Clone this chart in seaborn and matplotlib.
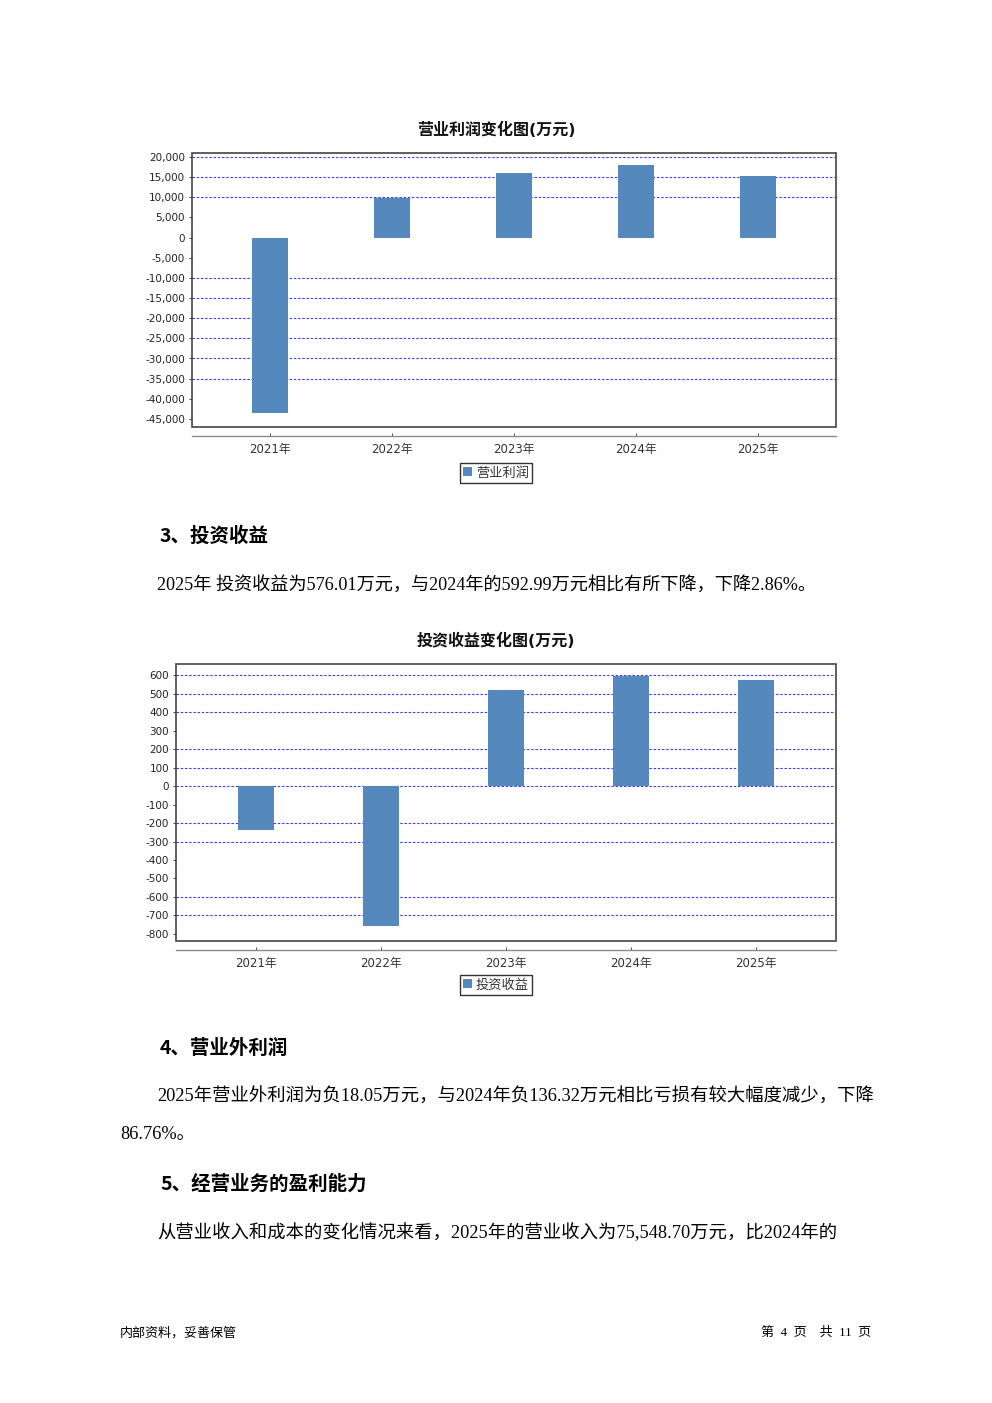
import pandas as pd
import seaborn as sns
import matplotlib.pyplot as plt
from matplotlib.patches import Rectangle
from matplotlib.ticker import FuncFormatter

# data read from the page
years = ['2021年', '2022年', '2023年', '2024年', '2025年']
op_profit = [-43500, 9800, 16000, 18000, 15200]
inv_income = [-238, -757, 520, 592.99, 576.01]
op_ticks = list(range(-45000, 20001, 5000))
inv_ticks = list(range(-800, 601, 100))
# dashed grid lines that show up in the scan
op_grid = [20000, 15000, 10000, -10000, -15000, -20000, -25000, -30000, -35000]
inv_grid = [600, 500, 400, 200, 100, 0, -200, -300, -600, -700]

BAR = '#5588bd'
GRID = '#3c3cf0'
W, H = 992, 1403

sns.set_theme(style='white')
plt.rcParams['font.family'] = ['DejaVu Sans', 'Noto Sans CJK SC']

fig = plt.figure(figsize=(W / 100, H / 100), dpi=100)


def px_axes(x0, y0, x1, y1):
    return fig.add_axes([x0 / W, 1 - y1 / H, (x1 - x0) / W, (y1 - y0) / H])


def draw_chart(ax, values, ticks, grid, ylim, label):
    df = pd.DataFrame({'year': years, 'value': values})
    sns.barplot(data=df, x='year', y='value', color=BAR, saturation=1,
                width=0.29, linewidth=0, ax=ax, label=label, legend=False, zorder=3)
    ax.set_xlim(-0.64, 4.64)
    ax.set_ylim(*ylim)
    ax.set_yticks(ticks)
    ax.yaxis.set_major_formatter(FuncFormatter(lambda v, p: f'{v:,.0f}'))
    for g in grid:
        ax.axhline(g, color=GRID, ls=(0, (2.2, 1.6)), lw=0.8, zorder=1)
    ax.set_xlabel('')
    ax.set_ylabel('')
    for s in ['top', 'right', 'left']:
        ax.spines[s].set_visible(False)
    ax.spines['bottom'].set_position(('outward', 6.5))
    ax.spines['bottom'].set_color('#8a8a8a')
    ax.spines['bottom'].set_linewidth(1.0)
    ax.add_patch(Rectangle((0, 0), 1, 1, transform=ax.transAxes, fill=False,
                           ec='#444444', lw=1.2, clip_on=False, zorder=5))
    ax.tick_params(axis='y', labelsize=7.5, colors='#222222', length=2,
                   width=0.6, pad=3, left=True)
    ax.tick_params(axis='x', labelsize=8.5, colors='#333333', length=2,
                   width=0.6, pad=5, bottom=True, direction='in')


def draw_legend(ax, cy):
    h, l = ax.get_legend_handles_labels()
    leg = fig.legend(h[:1], l[:1], loc='center', bbox_to_anchor=(496 / W, 1 - cy / H),
                     fontsize=9.5, frameon=True, fancybox=False, borderpad=0.25,
                     handlelength=0.65, handleheight=0.65, handletextpad=0.3,
                     borderaxespad=0)
    leg.get_frame().set_edgecolor('black')
    leg.get_frame().set_linewidth(1.0)
    for t in leg.get_texts():
        t.set_color('#333333')


# chart 1: 营业利润
ax1 = px_axes(192, 153, 836, 427)
draw_chart(ax1, op_profit, op_ticks, op_grid, (-47000, 21000), '营业利润')
draw_legend(ax1, 473)
fig.text(496 / W, 1 - 130 / H, '营业利润变化图(万元)', ha='center', va='center',
         fontsize=11.5, fontweight='bold', color='#111111')

# chart 2: 投资收益
ax2 = px_axes(176, 664, 836, 941)
draw_chart(ax2, inv_income, inv_ticks, inv_grid, (-838, 660), '投资收益')
draw_legend(ax2, 985)
fig.text(496 / W, 1 - 641 / H, '投资收益变化图(万元)', ha='center', va='center',
         fontsize=11.5, fontweight='bold', color='#111111')

# document text
serif = ['Liberation Serif', 'Noto Sans CJK SC']
head = ['Noto Sans CJK SC']


def put(x, y, s, size, family, bold=False):
    fig.text(x / W, 1 - y / H, s, ha='left', va='center', fontsize=size,
             family=family, fontweight='bold' if bold else 'normal', color='black')


put(160, 536, '3、投资收益', 14, head, True)
put(157, 585, '2025年 投资收益为576.01万元，与2024年的592.99万元相比有所下降，下降2.86%。', 13.1, serif)
put(160, 1048, '4、营业外利润', 14, head, True)
put(157, 1097, '2025年营业外利润为负18.05万元，与2024年负136.32万元相比亏损有较大幅度减少，下降', 13.2, serif)
put(120, 1135, '86.76%。', 13.2, serif)
put(160, 1184, '5、经营业务的盈利能力', 14, head, True)
put(157, 1233, '从营业收入和成本的变化情况来看，2025年的营业收入为75,548.70万元，比2024年的', 13.2, serif)

fig.text(120 / W, 1 - 1333 / H, '内部资料，妥善保管', ha='left', va='center',
         fontsize=9.4, family=serif, color='black')
fig.text(871 / W, 1 - 1333 / H, '第  4  页    共  11  页', ha='right', va='center',
         fontsize=9.4, family=serif, color='black')

fig.savefig('out.png', dpi=100)
